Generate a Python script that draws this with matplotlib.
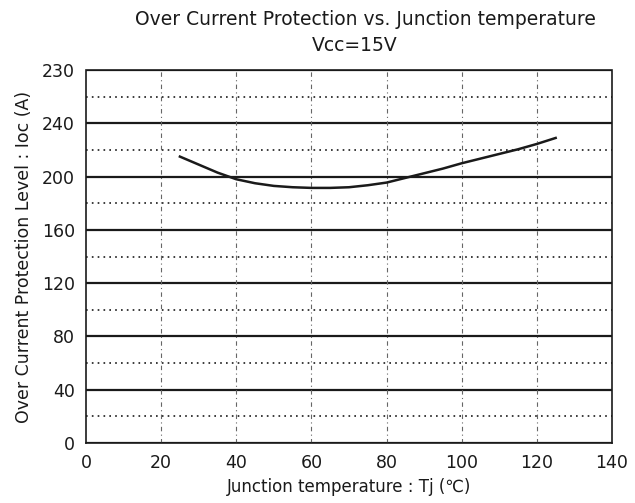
import matplotlib
matplotlib.use('Agg')
import matplotlib.pyplot as plt
import numpy as np

# curve
tj = [25, 30, 35, 40, 45, 50, 55, 60, 65, 70, 75, 80, 85, 90, 95, 100, 105, 110, 115, 120, 125]
ioc = [215, 209, 203, 198, 195, 193, 192, 191.5, 191.5, 192, 193.5, 195.5, 199, 202.5, 206, 210,
       213.5, 217, 220.5, 224.5, 229]

x_ticks = [0, 20, 40, 60, 80, 100, 120, 140]
y_ticks = [0, 40, 80, 120, 160, 200, 240, 280]
y_labels = ['0', '40', '80', '120', '160', '200', '240', '230']
y_minor = [20, 60, 100, 140, 180, 220, 260]

ink = '#1a1a1a'


def main():
	fig = plt.figure(figsize=(6.35, 5.03), dpi=100)
	ax = fig.add_axes([0.1354, 0.1193, 0.8284, 0.7415])
	ax.set_xlim(0, 140)
	ax.set_ylim(0, 280)

	#
	# grid
	#
	for y in y_ticks:
		ax.axhline(y, color=ink, lw=1.6, zorder=1)
	for y in y_minor:
		ax.axhline(y, color=ink, lw=1.2, ls=(0, (1, 2.5)), zorder=1)
	for x in x_ticks[1:-1]:
		ax.axvline(x, color='#666666', lw=0.8, ls=(0, (4, 3, 1, 3)), zorder=1)

	#
	# curve
	#
	ax.plot(tj, ioc, color=ink, lw=1.8, zorder=3)

	for s in ax.spines.values():
		s.set_color(ink)
		s.set_linewidth(1.2)
	ax.spines['left'].set_linestyle((0, (6, 1)))
	ax.spines['right'].set_linestyle((0, (6, 1)))

	ax.set_xticks(x_ticks)
	ax.set_yticks(y_ticks)
	ax.set_yticklabels(y_labels)
	ax.tick_params(length=0, labelsize=12.5, colors=ink, pad=8)

	ax.set_xlabel('Junction temperature : Tj (\u2103)', fontsize=12, color=ink, labelpad=4)
	ax.set_ylabel('Over Current Protection Level : Ioc (A)', fontsize=12.5, color=ink, labelpad=6)

	fig.text(0.575, 0.962, 'Over Current Protection vs. Junction temperature',
			 ha='center', va='center', fontsize=13.5, color=ink)
	fig.text(0.559, 0.91, 'Vcc=15V', ha='center', va='center', fontsize=13.5, color=ink)

	fig.savefig('out.png', dpi=100, facecolor='white')


if __name__ == "__main__":
	main()
